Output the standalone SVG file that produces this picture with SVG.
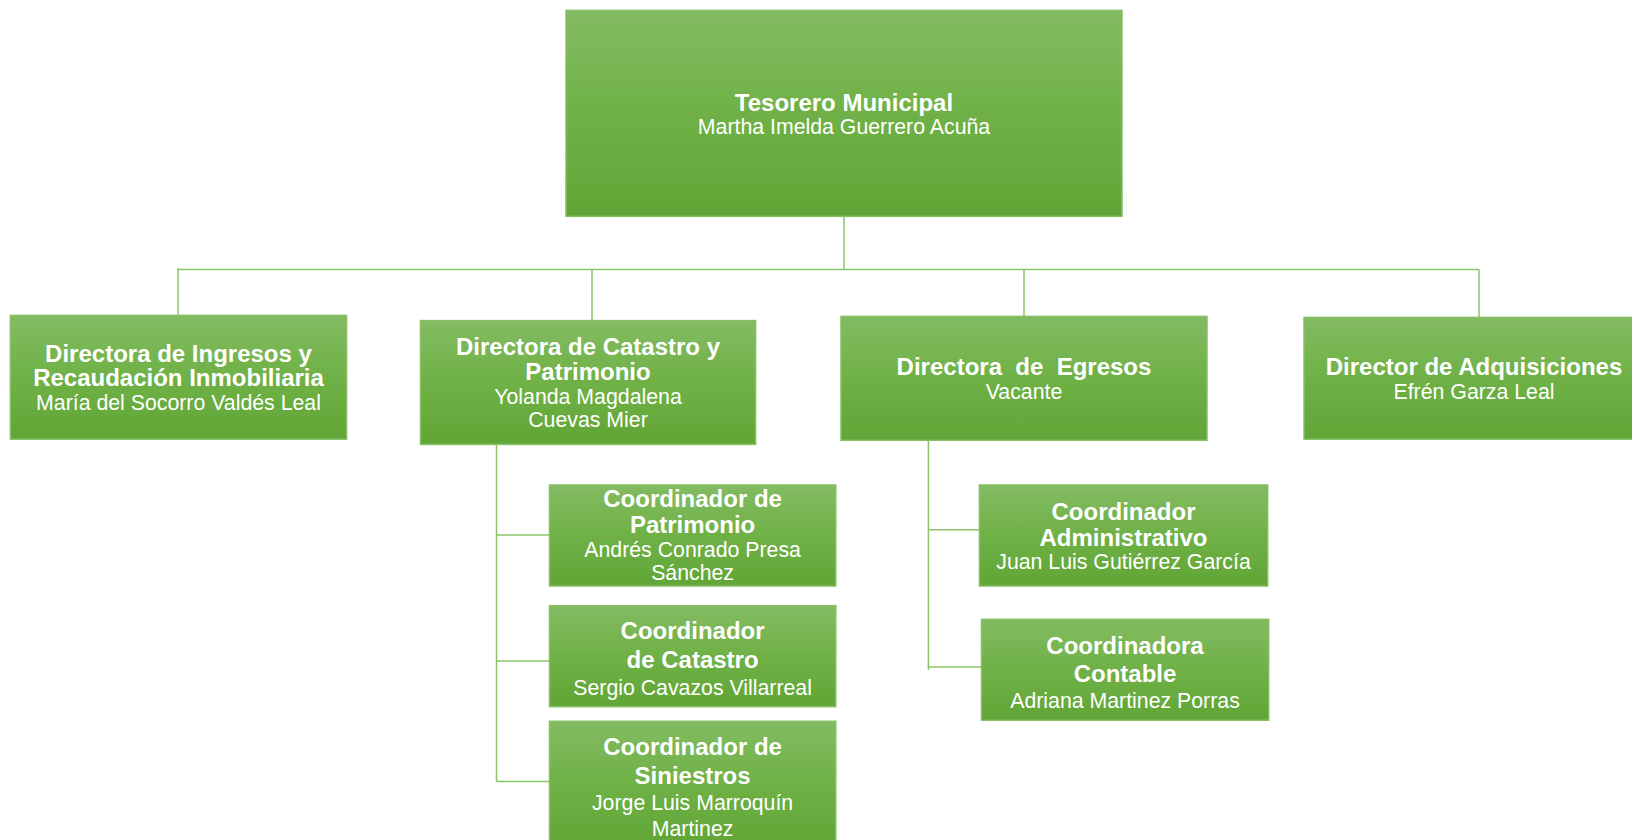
<svg xmlns="http://www.w3.org/2000/svg" width="1632" height="840" viewBox="0 0 1632 840">
<defs>
<linearGradient id="g" x1="0" y1="0" x2="0" y2="1">
<stop offset="0" stop-color="#83bb62"/>
<stop offset="0.5" stop-color="#6fb146"/>
<stop offset="1" stop-color="#61a536"/>
</linearGradient>
</defs>
<style>
.box{fill:url(#g);stroke:#86bf66;stroke-width:1.5}
.t{font-family:"Liberation Sans",Arial,sans-serif;font-size:24px;font-weight:bold;fill:#fff;text-anchor:middle}
.n{font-family:"Liberation Sans",Arial,sans-serif;font-size:21.3px;fill:#fff;text-anchor:middle}
.c{fill:none;stroke:#8cc36a;stroke-width:1.5}
</style>
<rect width="1632" height="840" fill="#fff"/>
<g id="connectors">
<path class="c" d="M844 216.5V269.6M178 269.6H1479M178 268V315.4M592 269.6V320.6M1024 269.6V316.4M1479 269.6V317.4"/>
<path class="c" d="M496.5 444.4V781.6M496.5 535H549.5M496.5 661H549.5M496.5 781.6H549.5"/>
<path class="c" d="M928.4 440.3V670M928.4 529.8H979.4M928.4 667H981.5"/>
</g>
<g id="tesorero">
<rect class="box" x="566" y="10.4" width="556" height="206"/>
<text class="t" x="844" y="110.5">Tesorero Municipal</text>
<text class="n" x="844" y="133.5">Martha Imelda Guerrero Acuña</text>
</g>
<g id="ingresos">
<rect class="box" x="10.4" y="315.4" width="336.2" height="123.8"/>
<text class="t" x="178.5" y="362.4">Directora de Ingresos y</text>
<text class="t" x="178.5" y="386.3">Recaudación Inmobiliaria</text>
<text class="n" x="178.5" y="410.3">María del Socorro Valdés Leal</text>
</g>
<g id="catastro">
<rect class="box" x="420.5" y="320.6" width="335.1" height="123.8"/>
<text class="t" x="588" y="355">Directora de Catastro y</text>
<text class="t" x="588" y="380">Patrimonio</text>
<text class="n" x="588" y="404">Yolanda Magdalena</text>
<text class="n" x="588" y="427">Cuevas Mier</text>
</g>
<g id="egresos">
<rect class="box" x="841" y="316.4" width="366" height="123.9"/>
<text class="t" x="1024" y="375" xml:space="preserve">Directora  de  Egresos</text>
<text class="n" x="1024" y="399">Vacante</text>
</g>
<g id="adquisiciones">
<rect class="box" x="1304" y="317.4" width="345" height="121.8"/>
<text class="t" x="1474" y="375">Director de Adquisiciones</text>
<text class="n" x="1474" y="399">Efrén Garza Leal</text>
</g>
<g id="coord-patrimonio">
<rect class="box" x="549.5" y="485" width="286.3" height="101"/>
<text class="t" x="692.6" y="507">Coordinador de</text>
<text class="t" x="692.6" y="533">Patrimonio</text>
<text class="n" x="692.6" y="557">Andrés Conrado Presa</text>
<text class="n" x="692.6" y="580">Sánchez</text>
</g>
<g id="coord-catastro">
<rect class="box" x="549.5" y="605.7" width="286.3" height="101"/>
<text class="t" x="692.6" y="639">Coordinador</text>
<text class="t" x="692.6" y="668.4">de Catastro</text>
<text class="n" x="692.6" y="694.5">Sergio Cavazos Villarreal</text>
</g>
<g id="coord-siniestros">
<rect class="box" x="549.5" y="721.3" width="286.3" height="125"/>
<text class="t" x="692.6" y="755">Coordinador de</text>
<text class="t" x="692.6" y="784">Siniestros</text>
<text class="n" x="692.6" y="810">Jorge Luis Marroquín</text>
<text class="n" x="692.6" y="836">Martinez</text>
</g>
<g id="coord-administrativo">
<rect class="box" x="979.4" y="485" width="288.3" height="101"/>
<text class="t" x="1123.5" y="519.5">Coordinador</text>
<text class="t" x="1123.5" y="545.6">Administrativo</text>
<text class="n" x="1123.5" y="568.5">Juan Luis Gutiérrez García</text>
</g>
<g id="coord-contable">
<rect class="box" x="981.5" y="619.3" width="287.2" height="100.9"/>
<text class="t" x="1125" y="654">Coordinadora</text>
<text class="t" x="1125" y="682">Contable</text>
<text class="n" x="1125" y="708">Adriana Martinez Porras</text>
</g>
</svg>
